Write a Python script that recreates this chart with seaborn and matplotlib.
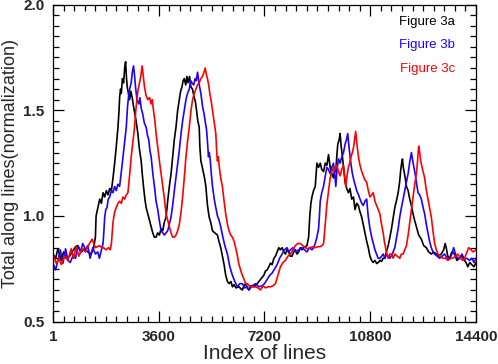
import pandas as pd
import matplotlib
matplotlib.use("Agg")
import matplotlib.pyplot as plt
from matplotlib.ticker import MultipleLocator
import seaborn as sns

# values (index of line, normalized total)
black_x = [1, 90, 169, 282, 361, 452, 565, 655, 768, 847, 960, 1072, 1185, 1298, 1377, 1445, 1468,
           1530, 1592, 1650, 1705, 1760, 1818, 1875, 1931, 1990, 2044, 2100, 2156, 2213, 2250, 2269,
           2300, 2326, 2365, 2405, 2440, 2473, 2500, 2529, 2570, 2608, 2650, 2698, 2740, 2777, 2830,
           2890, 2940, 3003, 3040, 3082, 3130, 3172, 3230, 3285, 3340, 3398, 3450, 3511, 3565, 3624,
           3680, 3737, 3790, 3850, 3905, 3962, 4020, 4075, 4130, 4188, 4245, 4301, 4345, 4391, 4430,
           4470, 4520, 4560, 4600, 4650, 4696, 4750, 4809, 4850, 4888, 4930, 4978, 5000, 5035, 5070,
           5114, 5160, 5204, 5260, 5317, 5370, 5430, 5510, 5599, 5650, 5712, 5770, 5825, 5880, 5940,
           5994, 6060, 6110, 6163, 6230, 6333, 6400, 6446, 6502, 6558, 6610, 6671, 6740, 6840, 6953,
           7066, 7120, 7179, 7235, 7292, 7348, 7405, 7461, 7520, 7574, 7630, 7687, 7740, 7800, 7860,
           7913, 7970, 8025, 8080, 8138, 8195, 8251, 8310, 8364, 8420, 8477, 8533, 8590, 8646, 8703,
           8740, 8780, 8816, 8870, 8928, 8960, 8985, 9040, 9098, 9150, 9211, 9270, 9324, 9380, 9436,
           9490, 9549, 9590, 9628, 9660, 9696, 9740, 9775, 9810, 9854, 9900, 9944, 10000, 10057,
           10110, 10170, 10230, 10283, 10340, 10396, 10450, 10509, 10560, 10621, 10680, 10734, 10790,
           10847, 10900, 10960, 11020, 11073, 11130, 11186, 11240, 11299, 11350, 11412, 11470, 11524,
           11580, 11637, 11690, 11750, 11800, 11840, 11870, 11897, 11925, 11953, 11990, 12032, 12090,
           12145, 12200, 12258, 12310, 12371, 12450, 12540, 12620, 12710, 12790, 12879, 12960, 13048,
           13130, 13218, 13300, 13350, 13387, 13440, 13500, 13580, 13670, 13750, 13839, 13920, 14008,
           14060, 14121, 14190, 14256, 14330, 14400]
black_y = [0.82, 0.80, 0.845, 0.79, 0.83, 0.80, 0.81, 0.83, 0.855, 0.86, 0.83, 0.845, 0.83, 0.82,
           0.845, 0.90, 1.00, 1.04, 1.08, 1.06, 1.11, 1.09, 1.12, 1.10, 1.13, 1.12, 1.18, 1.25, 1.33,
           1.42, 1.50, 1.56, 1.60, 1.58, 1.65, 1.63, 1.70, 1.73, 1.66, 1.61, 1.58, 1.55, 1.59, 1.56,
           1.52, 1.49, 1.45, 1.39, 1.32, 1.26, 1.20, 1.14, 1.08, 1.04, 1.01, 0.98, 0.95, 0.92, 0.90,
           0.90, 0.92, 0.91, 0.94, 0.93, 0.97, 0.995, 1.07, 1.14, 1.20, 1.28, 1.36, 1.42, 1.50, 1.55,
           1.59, 1.61, 1.64, 1.65, 1.62, 1.66, 1.63, 1.66, 1.61, 1.60, 1.56, 1.54, 1.50, 1.45, 1.42,
           1.33, 1.26, 1.24, 1.21, 1.18, 1.14, 1.05, 0.995, 0.97, 0.93, 0.92, 0.91, 0.88, 0.85, 0.81,
           0.77, 0.72, 0.69, 0.68, 0.69, 0.665, 0.675, 0.66, 0.665, 0.655, 0.65, 0.67, 0.68, 0.66,
           0.65, 0.67, 0.665, 0.68, 0.70, 0.71, 0.72, 0.74, 0.745, 0.76, 0.777, 0.77, 0.80, 0.81,
           0.83, 0.85, 0.84, 0.85, 0.83, 0.82, 0.84, 0.83, 0.81, 0.81, 0.83, 0.84, 0.82, 0.83, 0.85,
           0.84, 0.85, 0.855, 0.86, 0.90, 0.995, 1.06, 1.09, 1.12, 1.14, 1.20, 1.25, 1.23, 1.25, 1.22,
           1.21, 1.25, 1.24, 1.29, 1.23, 1.20, 1.18, 1.22, 1.21, 1.28, 1.34, 1.36, 1.39, 1.33, 1.28,
           1.22, 1.16, 1.13, 1.11, 1.13, 1.08, 1.09, 1.03, 1.06, 1.05, 1.02, 0.995, 0.96, 0.92, 0.88,
           0.85, 0.81, 0.79, 0.78, 0.79, 0.775, 0.78, 0.79, 0.785, 0.80, 0.80, 0.83, 0.86, 0.90, 0.94,
           0.99, 1.04, 1.07, 1.11, 1.16, 1.22, 1.25, 1.27, 1.23, 1.21, 1.18, 1.14, 1.12, 1.08, 1.05,
           1.01, 0.98, 0.95, 0.91, 0.89, 0.86, 0.85, 0.83, 0.82, 0.83, 0.82, 0.81, 0.82, 0.84, 0.87,
           0.85, 0.81, 0.80, 0.83, 0.82, 0.79, 0.80, 0.81, 0.79, 0.78, 0.76, 0.78, 0.77, 0.76, 0.78]

blue_x = [1, 90, 169, 248, 339, 429, 508, 587, 677, 768, 847, 937, 1016, 1106, 1185, 1264, 1355,
          1445, 1524, 1580, 1650, 1705, 1735, 1761, 1800, 1840, 1880, 1931, 1990, 2044, 2100, 2156,
          2210, 2269, 2320, 2382, 2440, 2495, 2540, 2585, 2625, 2664, 2700, 2743, 2780, 2811, 2860,
          2924, 2960, 3003, 3059, 3110, 3172, 3220, 3263, 3300, 3342, 3400, 3454, 3510, 3567, 3620,
          3680, 3740, 3793, 3850, 3906, 3960, 4019, 4075, 4132, 4220, 4301, 4360, 4414, 4470, 4527,
          4580, 4640, 4690, 4730, 4790, 4843, 4880, 4922, 4980, 5035, 5090, 5148, 5190, 5227, 5260,
          5294, 5320, 5351, 5390, 5430, 5490, 5543, 5600, 5655, 5710, 5768, 5850, 5938, 6020, 6107,
          6190, 6276, 6360, 6446, 6530, 6615, 6671, 6780, 6897, 7010, 7122, 7200, 7292, 7380, 7461,
          7545, 7630, 7715, 7800, 7880, 7969, 8025, 8082, 8170, 8251, 8360, 8477, 8560, 8646, 8730,
          8816, 8870, 8928, 8985, 9041, 9070, 9098, 9150, 9211, 9270, 9324, 9380, 9436, 9490, 9549,
          9590, 9628, 9670, 9719, 9775, 9832, 9890, 9944, 9990, 10035, 10075, 10114, 10150, 10193,
          10260, 10339, 10400, 10452, 10510, 10565, 10620, 10678, 10730, 10791, 10850, 10904, 10960,
          11017, 11070, 11129, 11190, 11242, 11300, 11355, 11410, 11468, 11550, 11637, 11700, 11750,
          11810, 11863, 11920, 11976, 12030, 12089, 12150, 12202, 12260, 12315, 12370, 12427, 12480,
          12540, 12600, 12653, 12710, 12766, 12820, 12879, 12940, 12992, 13080, 13161, 13250, 13330,
          13420, 13500, 13580, 13640, 13700, 13770, 13839, 13920, 14008, 14090, 14177, 14260, 14330,
          14400]
blue_y = [0.776, 0.745, 0.79, 0.84, 0.776, 0.845, 0.79, 0.78, 0.81, 0.80, 0.855, 0.83, 0.87, 0.84,
          0.86, 0.80, 0.85, 0.82, 0.83, 0.80, 0.84, 0.87, 0.93, 0.995, 1.03, 1.04, 1.08, 1.09, 1.12,
          1.11, 1.14, 1.12, 1.15, 1.14, 1.20, 1.28, 1.35, 1.42, 1.52, 1.58, 1.61, 1.63, 1.68, 1.71,
          1.66, 1.61, 1.55, 1.53, 1.56, 1.51, 1.48, 1.44, 1.42, 1.38, 1.36, 1.31, 1.28, 1.20, 1.14,
          1.07, 1.03, 0.98, 0.93, 0.92, 0.91, 0.92, 0.93, 0.96, 0.995, 1.05, 1.12, 1.22, 1.31, 1.39,
          1.45, 1.50, 1.55, 1.58, 1.60, 1.64, 1.63, 1.62, 1.65, 1.64, 1.68, 1.62, 1.58, 1.52, 1.48,
          1.44, 1.41, 1.35, 1.28, 1.30, 1.27, 1.20, 1.14, 1.08, 1.04, 1.00, 0.98, 0.95, 0.91, 0.86,
          0.82, 0.76, 0.72, 0.69, 0.665, 0.68, 0.68, 0.66, 0.665, 0.65, 0.67, 0.68, 0.665, 0.67,
          0.68, 0.70, 0.72, 0.73, 0.75, 0.77, 0.80, 0.82, 0.84, 0.85, 0.83, 0.84, 0.85, 0.83, 0.84,
          0.85, 0.84, 0.83, 0.85, 0.84, 0.85, 0.87, 0.90, 0.94, 1.00, 1.07, 1.11, 1.14, 1.19, 1.23,
          1.22, 1.20, 1.23, 1.25, 1.20, 1.14, 1.22, 1.27, 1.25, 1.28, 1.30, 1.34, 1.36, 1.39, 1.33,
          1.28, 1.24, 1.20, 1.16, 1.12, 1.10, 1.08, 1.06, 1.05, 1.07, 1.08, 1.00, 0.94, 0.90, 0.87,
          0.84, 0.82, 0.80, 0.80, 0.81, 0.82, 0.80, 0.82, 0.81, 0.80, 0.82, 0.85, 0.90, 0.94, 1.00,
          1.04, 1.08, 1.12, 1.16, 1.20, 1.26, 1.30, 1.25, 1.21, 1.16, 1.11, 1.10, 1.08, 1.04, 1.01,
          0.96, 0.92, 0.88, 0.85, 0.83, 0.82, 0.81, 0.80, 0.81, 0.82, 0.80, 0.795, 0.82, 0.85, 0.82,
          0.80, 0.80, 0.82, 0.795, 0.80, 0.79, 0.80, 0.78, 0.80]

red_x = [1, 113, 203, 282, 395, 508, 621, 700, 790, 880, 994, 1106, 1242, 1332, 1445, 1580, 1670,
         1716, 1806, 1890, 1950, 1990, 2044, 2100, 2156, 2210, 2269, 2330, 2380, 2439, 2495, 2551,
         2600, 2664, 2720, 2777, 2820, 2856, 2900, 2947, 2990, 3037, 3075, 3116, 3170, 3229, 3290,
         3342, 3380, 3421, 3470, 3511, 3570, 3624, 3680, 3737, 3795, 3850, 3905, 3962, 4020, 4075,
         4130, 4188, 4245, 4301, 4360, 4414, 4470, 4527, 4580, 4640, 4700, 4752, 4810, 4865, 4920,
         4978, 5035, 5091, 5140, 5181, 5220, 5260, 5300, 5339, 5390, 5430, 5490, 5543, 5575, 5599,
         5630, 5655, 5710, 5768, 5825, 5881, 5940, 5994, 6050, 6107, 6165, 6220, 6280, 6333, 6420,
         6502, 6560, 6615, 6671, 6780, 6897, 6980, 7066, 7150, 7235, 7320, 7405, 7490, 7574, 7660,
         7743, 7830, 7913, 8000, 8082, 8170, 8251, 8335, 8420, 8500, 8590, 8670, 8759, 8840, 8928,
         9010, 9098, 9160, 9211, 9250, 9290, 9320, 9357, 9400, 9436, 9490, 9549, 9600, 9662, 9720,
         9775, 9830, 9888, 9930, 9967, 10010, 10057, 10100, 10147, 10190, 10226, 10265, 10305,
         10340, 10373, 10410, 10452, 10510, 10565, 10620, 10678, 10735, 10791, 10850, 10904, 10960,
         11017, 11070, 11129, 11185, 11242, 11280, 11321, 11365, 11411, 11470, 11524, 11580, 11637,
         11720, 11807, 11860, 11919, 11975, 12032, 12090, 12145, 12200, 12258, 12315, 12371, 12410,
         12450, 12485, 12518, 12580, 12653, 12700, 12766, 12820, 12879, 12935, 12992, 13050, 13105,
         13190, 13274, 13360, 13443, 13530, 13613, 13700, 13782, 13870, 13951, 14010, 14064, 14150,
         14233, 14300, 14400]
red_y = [0.82, 0.776, 0.80, 0.77, 0.81, 0.79, 0.845, 0.80, 0.855, 0.81, 0.845, 0.83, 0.87, 0.89,
         0.85, 0.86, 0.85, 0.85, 0.84, 0.85, 0.84, 0.87, 0.97, 1.02, 1.04, 1.06, 1.07, 1.06, 1.09,
         1.08, 1.10, 1.11, 1.18, 1.28, 1.35, 1.42, 1.50, 1.55, 1.60, 1.63, 1.66, 1.71, 1.66, 1.61,
         1.57, 1.55, 1.56, 1.53, 1.55, 1.50, 1.45, 1.39, 1.32, 1.26, 1.20, 1.14, 1.08, 1.01, 0.98,
         0.95, 0.92, 0.90, 0.90, 0.91, 0.93, 0.96, 1.02, 1.09, 1.18, 1.28, 1.35, 1.42, 1.50, 1.55,
         1.58, 1.60, 1.62, 1.63, 1.65, 1.66, 1.68, 1.70, 1.67, 1.65, 1.62, 1.58, 1.54, 1.50, 1.44,
         1.39, 1.30, 1.26, 1.28, 1.24, 1.18, 1.14, 1.07, 1.01, 0.96, 0.93, 0.91, 0.90, 0.88, 0.85,
         0.81, 0.77, 0.73, 0.70, 0.68, 0.68, 0.67, 0.665, 0.665, 0.66, 0.65, 0.67, 0.66, 0.665,
         0.665, 0.67, 0.68, 0.72, 0.76, 0.78, 0.79, 0.81, 0.82, 0.84, 0.86, 0.87, 0.87, 0.86, 0.85,
         0.845, 0.85, 0.855, 0.85, 0.855, 0.855, 0.86, 0.87, 0.93, 0.995, 1.05, 1.09, 1.14, 1.18,
         1.21, 1.23, 1.22, 1.24, 1.21, 1.19, 1.22, 1.24, 1.19, 1.14, 1.19, 1.23, 1.25, 1.28, 1.30,
         1.32, 1.36, 1.40, 1.35, 1.31, 1.27, 1.24, 1.21, 1.19, 1.17, 1.16, 1.12, 1.09, 1.10, 1.11,
         1.07, 1.05, 1.03, 1.01, 0.96, 0.92, 0.88, 0.85, 0.82, 0.80, 0.82, 0.82, 0.80, 0.82, 0.81,
         0.80, 0.82, 0.82, 0.84, 0.86, 0.91, 0.97, 1.03, 1.09, 1.15, 1.20, 1.26, 1.33, 1.30, 1.26,
         1.22, 1.18, 1.13, 1.08, 1.04, 0.995, 0.93, 0.87, 0.84, 0.82, 0.81, 0.80, 0.80, 0.79, 0.80,
         0.80, 0.81, 0.82, 0.80, 0.79, 0.80, 0.82, 0.85, 0.84, 0.83, 0.84]

series_names = ["Figure 3a", "Figure 3b", "Figure 3c"]
series_colors = ["black", "#2200ff", "#ff0000"]
x_ticks = [1, 3600, 7200, 10800, 14400]

frames = []
for name, xs, ys in zip(series_names, [black_x, blue_x, red_x], [black_y, blue_y, red_y]):
    frames.append(pd.DataFrame({"idx": xs, "val": ys, "series": name}))
df = pd.concat(frames, ignore_index=True)

sns.set_style("ticks")
plt.rcParams["font.family"] = ["Liberation Sans", "DejaVu Sans"]

fig = plt.figure(figsize=(4.98, 3.64), dpi=100)
ax = fig.add_axes([0.1064, 0.1162, 0.8494, 0.8712])

sns.lineplot(data=df, x="idx", y="val", hue="series", palette=series_colors,
             sort=False, estimator=None, linewidth=1.2, legend=False, ax=ax)

ax.set_xlim(1, 14400)
ax.set_ylim(0.5, 2.0)
ax.set_xticks(x_ticks)
ax.set_xticklabels([str(t) for t in x_ticks])
ax.xaxis.set_minor_locator(MultipleLocator(360))
ax.yaxis.set_major_locator(MultipleLocator(0.5))
ax.yaxis.set_minor_locator(MultipleLocator(0.05))
ax.tick_params(which="both", direction="in", top=True, right=True, width=0.9, color="black")
ax.tick_params(which="major", length=8, labelsize=11, pad=6)
ax.tick_params(which="minor", length=4)
for lab in ax.get_xticklabels() + ax.get_yticklabels():
    lab.set_fontweight("bold")
for sp in ax.spines.values():
    sp.set_linewidth(0.9)
    sp.set_color("black")

ax.set_xlabel("Index of lines", fontsize=15, labelpad=0)
ax.set_ylabel("Total along lines(normalization)", fontsize=13, labelpad=3)

for name, col, ty in zip(series_names, series_colors, [0.945, 0.871, 0.797]):
    ax.text(0.95, ty, name, color=col, fontsize=9.5, ha="right", va="center",
            transform=ax.transAxes)

fig.savefig("out.png", dpi=100)
